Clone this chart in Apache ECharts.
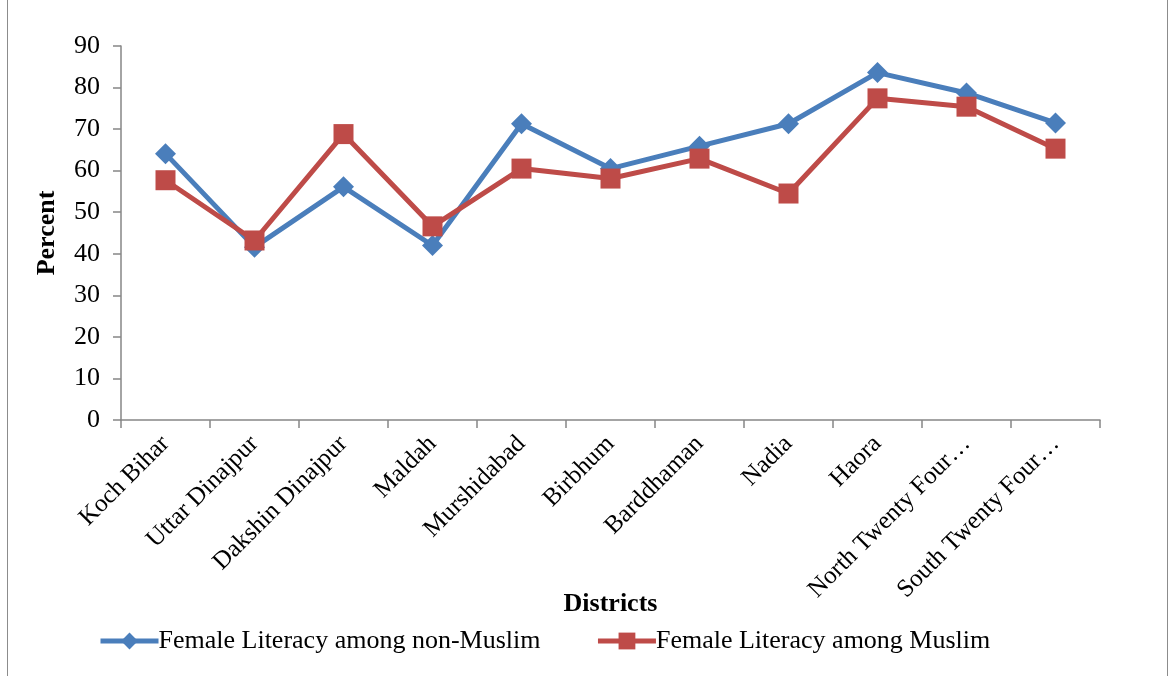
<!DOCTYPE html>
<html>
<head>
<meta charset="utf-8">
<script src="https://cdn.jsdelivr.net/npm/echarts@6/dist/echarts.min.js"></script>
<style>
  html, body { margin: 0; padding: 0; background: #fff; }
  #chart { width: 1170px; height: 676px; }
</style>
</head>
<body>
<div id="chart"></div>
<script>
// District names along the category axis
const districts = [
  'Koch Bihar', 'Uttar Dinajpur', 'Dakshin Dinajpur', 'Maldah', 'Murshidabad',
  'Birbhum', 'Barddhaman', 'Nadia', 'Haora', 'North Twenty Four Parganas',
  'South Twenty Four Parganas'
];
// Female literacy rate (%) by community
const nonMuslim = [64.1, 41.6, 56.1, 42.0, 71.3, 60.5, 65.9, 71.3, 83.6, 78.7, 71.5];
const muslim    = [57.7, 43.2, 68.8, 46.6, 60.5, 58.1, 62.9, 54.5, 77.4, 75.4, 65.3];
// Value axis ticks
const yTicks = [0, 10, 20, 30, 40, 50, 60, 70, 80, 90];

const font = '"Liberation Serif", "Times New Roman", serif';
const axisGray = '#868686';
const blue = '#4A7EBB';
const red = '#BE4B48';

const chart = echarts.init(document.getElementById('chart'), null, { renderer: 'canvas' });
chart.setOption({
  animation: false,
  backgroundColor: '#fff',
  textStyle: { fontFamily: font, color: '#000' },
  graphic: [{
    type: 'rect',
    shape: { x: 7.5, y: -5, width: 1160, height: 690 },
    style: { fill: 'none', stroke: '#8c8c8c', lineWidth: 1 },
    silent: true
  }],
  grid: { left: 121, right: 70, top: 46, bottom: 256, containLabel: false },
  legend: {
    left: 93,
    top: 623,
    itemWidth: 58,
    itemHeight: 21,
    itemGap: 55,
    textStyle: { fontFamily: font, fontSize: 26, color: '#000', padding: [0, 0, 0, -5] },
    data: [
      { name: 'Female Literacy among non-Muslim', lineStyle: { width: 5, color: blue } },
      { name: 'Female Literacy among Muslim', lineStyle: { width: 5, color: red } }
    ]
  },
  xAxis: {
    type: 'category',
    data: districts,
    boundaryGap: true,
    name: 'Districts',
    nameLocation: 'middle',
    nameGap: 171,
    nameMoveOverlap: false,
    nameTextStyle: { fontFamily: font, fontSize: 26, fontWeight: 'bold', color: '#000' },
    axisLine: { lineStyle: { color: axisGray, width: 1.5 } },
    axisTick: { show: true, alignWithLabel: false, length: 8, lineStyle: { color: axisGray, width: 1.5 } },
    axisLabel: {
      rotate: 45,
      interval: 0,
      margin: 20,
      fontFamily: font,
      fontSize: 25,
      color: '#000',
      formatter: function (v) {
        return v.length > 20 ? v.slice(0, 17) + '…' : v;
      }
    },
    splitLine: { show: false }
  },
  yAxis: {
    type: 'value',
    min: yTicks[0],
    max: yTicks[yTicks.length - 1],
    interval: 10,
    name: 'Percent',
    nameLocation: 'middle',
    nameGap: 61,
    nameRotate: 90,
    nameMoveOverlap: false,
    nameTextStyle: { fontFamily: font, fontSize: 26, fontWeight: 'bold', color: '#000' },
    axisLine: { show: true, lineStyle: { color: axisGray, width: 1.5 } },
    axisTick: { show: true, length: 8, lineStyle: { color: axisGray, width: 1.5 } },
    axisLabel: { fontFamily: font, fontSize: 26, color: '#000', margin: 21 },
    splitLine: { show: false }
  },
  series: [
    {
      name: 'Female Literacy among non-Muslim',
      type: 'line',
      data: nonMuslim,
      symbol: 'diamond',
      symbolSize: 21,
      itemStyle: { color: blue },
      lineStyle: { color: blue, width: 5 },
      z: 3
    },
    {
      name: 'Female Literacy among Muslim',
      type: 'line',
      data: muslim,
      symbol: 'rect',
      symbolSize: 20,
      itemStyle: { color: red },
      lineStyle: { color: red, width: 5 },
      z: 4
    }
  ]
});
</script>
</body>
</html>
